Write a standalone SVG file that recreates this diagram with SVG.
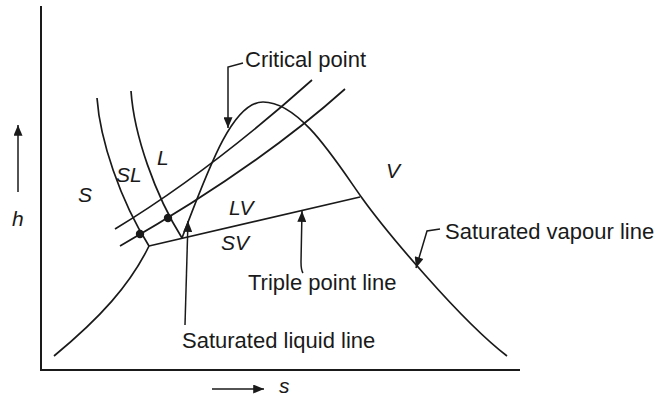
<svg xmlns="http://www.w3.org/2000/svg" width="660" height="396" viewBox="0 0 660 396">
<style>
.ax{fill:none;stroke:#1a1a1a;stroke-width:2}
.cv{fill:none;stroke:#1a1a1a;stroke-width:1.7}
.ld{fill:none;stroke:#1a1a1a;stroke-width:1.5}
.t{font-family:"Liberation Sans",Arial,sans-serif;font-size:22px;fill:#1a1a1a}
.i{font-family:"Liberation Sans",Arial,sans-serif;font-size:21px;font-style:italic;fill:#1a1a1a}
</style>
<defs>
<marker id="ah" markerUnits="userSpaceOnUse" viewBox="0 0 12 10" refX="12" refY="5" markerWidth="12" markerHeight="9" orient="auto">
<path d="M0,0 L12,5 L0,10 Z" fill="#1a1a1a"/>
</marker>
</defs>
<rect width="660" height="396" fill="#fff"/>
<g id="axes">
<path class="ax" d="M41,6 V370 H520"/>
<line class="ld" x1="18" y1="192" x2="18" y2="125" marker-end="url(#ah)"/>
<line class="ld" x1="212" y1="389" x2="264" y2="389" marker-end="url(#ah)"/>
<text class="i" x="12" y="226">h</text>
<text class="i" x="279" y="393">s</text>
</g>
<g id="curves">
<path id="solid-liquid-left" class="cv" d="M97,98 C100,140 120,200 149,246"/>
<path id="melting-line" class="cv" d="M131,91 C134,135 155,195 182,238"/>
<path id="sublimation-line" class="cv" d="M54,356 C100,318 130,285 149,246"/>
<path id="triple-point-line" class="cv" d="M149,246 L360,197"/>
<path id="dome" class="cv" d="M182,238 C208,170 232,102 263,102 C300,102 335,160 362,198 C385,230 460,320 507,356"/>
<path id="isobar-upper" class="cv" d="M115,229 Q209,172 312,80"/>
<path id="isobar-lower" class="cv" d="M120,246 Q258,167 345,89"/>
<circle cx="140" cy="234" r="4.2" fill="#1a1a1a"/>
<circle cx="168" cy="218" r="4.2" fill="#1a1a1a"/>
</g>
<g id="regions">
<text class="i" x="78" y="202">S</text>
<text class="i" x="116" y="182">SL</text>
<text class="i" x="157" y="165">L</text>
<text class="i" x="229" y="215">LV</text>
<text class="i" x="221" y="250">SV</text>
<text class="i" x="386" y="178">V</text>
</g>
<g id="connectors">
<path class="ld" d="M243,63 L228,67 L228,128" marker-end="url(#ah)"/>
<path class="ld" d="M440,229 L427,231 L416,268" marker-end="url(#ah)"/>
<path class="ld" d="M303,273 Q301,270 301,262 L302,211" marker-end="url(#ah)"/>
<path class="ld" d="M185,325 L188,221" marker-end="url(#ah)"/>
</g>
<g id="label-critical"><text class="t" x="245" y="67">Critical point</text></g>
<g id="label-vapour"><text class="t" x="445" y="239">Saturated vapour line</text></g>
<g id="label-triple"><text class="t" x="248" y="290">Triple point line</text></g>
<g id="label-liquid"><text class="t" x="182" y="348">Saturated liquid line</text></g>
</svg>
